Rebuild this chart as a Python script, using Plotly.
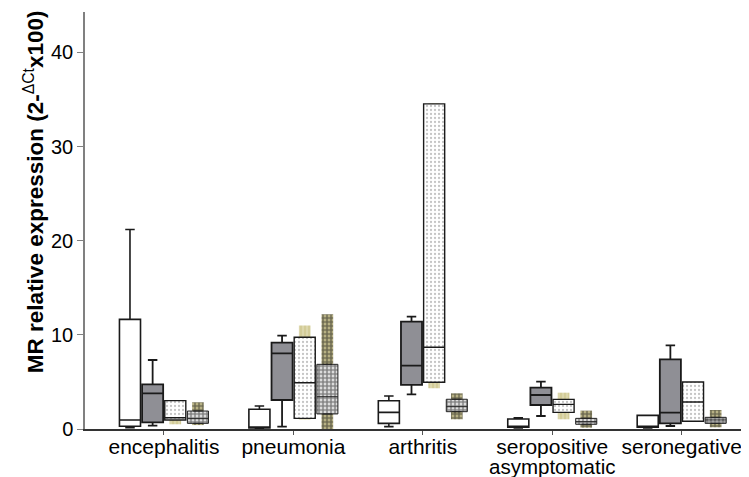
import plotly.graph_objects as go

categories = ["encephalitis", "pneumonia", "arthritis", "seropositive asymptomatic", "seronegative"]
tick_text = ["encephalitis", "pneumonia", "arthritis", "seropositive", "seronegative"]

# group A (open boxes)
a_min = [0.15, 0.0, 0.25, 0.1, 0.1]
a_q1 = [0.3, 0.1, 0.6, 0.18, 0.18]
a_med = [0.95, 0.15, 1.77, 0.3, 0.2]
a_q3 = [11.65, 2.1, 3.0, 1.06, 1.45]
a_max = [21.2, 2.45, 3.5, 1.2, 1.45]

# group B (grey boxes)
b_min = [0.35, 0.25, 3.68, 1.38, 0.32]
b_q1 = [0.71, 3.08, 4.68, 2.55, 0.6]
b_med = [3.79, 8.04, 6.73, 3.61, 1.74]
b_q3 = [4.75, 9.17, 11.4, 4.39, 7.4]
b_max = [7.33, 9.92, 11.93, 5.03, 8.89]

# group C (dotted boxes)
c_min = [0.5, 1.0, 4.32, 1.03, 0.82]
c_q1 = [0.96, 1.13, 4.96, 1.77, 0.82]
c_med = [1.2, 4.92, 8.68, 2.62, 2.87]
c_q3 = [3.01, 9.74, 34.54, 3.15, 4.99]
c_max = [3.01, 11.0, 34.6, 3.86, 4.99]

# group D (checkered boxes)
d_min = [0.42, 0.0, 1.03, 0.14, 0.18]
d_q1 = [0.6, 1.6, 1.84, 0.5, 0.6]
d_med = [1.1, 3.43, 2.37, 0.78, 0.96]
d_q3 = [1.91, 6.87, 3.16, 1.13, 1.24]
d_max = [2.84, 12.2, 3.79, 1.95, 2.02]

y_ticks = [0, 10, 20, 30, 40]

KHAKI = "#d3cc98"
GREY = "#8f8f95"
GAP = 0.3
GROUPGAP = 0.07
BAND_W = 0.09
N_GROUPS = 4
FONT = "Liberation Sans, Arial, sans-serif"

def slot_offset(k):
    return (k + 0.5) * (1 - GAP) / N_GROUPS - (1 - GAP) / 2 - BAND_W / 2

def span(lo, hi):
    return [h - l for l, h in zip(lo, hi)]

fig = go.Figure()

# box fills (white / grey)
fig.add_trace(go.Bar(x=categories, base=a_q1, y=span(a_q1, a_q3), offsetgroup="a",
                     marker=dict(color="white", line=dict(width=0)), showlegend=False, hoverinfo="skip"))
fig.add_trace(go.Bar(x=categories, base=b_q1, y=span(b_q1, b_q3), offsetgroup="b",
                     marker=dict(color=GREY, line=dict(width=0)), showlegend=False, hoverinfo="skip"))

# patterned whisker bands for dotted and checkered groups
fig.add_trace(go.Bar(x=categories, base=c_min, y=span(c_min, c_max), offsetgroup="c",
                     width=BAND_W, offset=slot_offset(2),
                     marker=dict(color=KHAKI, line=dict(width=0),
                                 pattern=dict(shape="|", fgcolor="#f4f1dc", bgcolor=KHAKI, size=4, solidity=0.3)),
                     showlegend=False, hoverinfo="skip"))
fig.add_trace(go.Bar(x=categories, base=d_min, y=span(d_min, d_max), offsetgroup="d",
                     width=BAND_W, offset=slot_offset(3),
                     marker=dict(color=KHAKI, line=dict(width=0),
                                 pattern=dict(shape=".", fgcolor="#111111", bgcolor=KHAKI, size=4, solidity=0.75)),
                     showlegend=False, hoverinfo="skip"))

# patterned box fills
fig.add_trace(go.Bar(x=categories, base=c_q1, y=span(c_q1, c_q3), offsetgroup="c",
                     marker=dict(color="white", line=dict(width=0),
                                 pattern=dict(shape=".", fgcolor="#8a8a8a", bgcolor="white", size=4, solidity=0.25)),
                     showlegend=False, hoverinfo="skip"))
fig.add_trace(go.Bar(x=categories, base=d_q1, y=span(d_q1, d_q3), offsetgroup="d",
                     marker=dict(color="white", line=dict(width=0),
                                 pattern=dict(shape=".", fgcolor="#111111", bgcolor="white", size=4, solidity=0.75)),
                     showlegend=False, hoverinfo="skip"))

# box outlines, medians and whiskers
common = dict(x=categories, fillcolor="rgba(0,0,0,0)", whiskerwidth=0.45, boxpoints=False,
              showlegend=False, hoverinfo="skip")
fig.add_trace(go.Box(q1=a_q1, median=a_med, q3=a_q3, lowerfence=a_min, upperfence=a_max,
                     offsetgroup="a", line=dict(color="#1a1a1a", width=1.6), **common))
fig.add_trace(go.Box(q1=b_q1, median=b_med, q3=b_q3, lowerfence=b_min, upperfence=b_max,
                     offsetgroup="b", line=dict(color="#1a1a1a", width=1.8), **common))
fig.add_trace(go.Box(q1=c_q1, median=c_med, q3=c_q3, lowerfence=c_q1, upperfence=c_q3,
                     offsetgroup="c", line=dict(color="#1a1a1a", width=1.4), **common))
fig.add_trace(go.Box(q1=d_q1, median=d_med, q3=d_q3, lowerfence=d_q1, upperfence=d_q3,
                     offsetgroup="d", line=dict(color="#222222", width=1.0), **common))

annotations = [dict(text="<b>MR relative expression (2-</b><sup>ΔCt</sup><b>x100)</b>",
                    textangle=-90, xref="paper", yref="paper", x=-0.0768, y=0.568,
                    xanchor="center", yanchor="middle", showarrow=False,
                    font=dict(size=22.5, family=FONT, color="black")),
               dict(text="asymptomatic", xref="x", x=3, yref="paper", y=-0.089,
                    xanchor="center", yanchor="middle", showarrow=False,
                    font=dict(size=20.5, family=FONT, color="black"))]

fig.update_layout(
    width=741, height=469,
    margin=dict(l=77, r=0, t=4, b=48),
    paper_bgcolor="white", plot_bgcolor="white",
    barmode="group", bargap=GAP, bargroupgap=GROUPGAP,
    boxmode="group", boxgap=GAP, boxgroupgap=GROUPGAP,
    font=dict(family=FONT, color="black"),
    xaxis=dict(type="category", range=[-0.61, 4.52], showline=True, linecolor="#333333", linewidth=1.5,
               tickmode="array", tickvals=categories, ticktext=tick_text,
               ticks="outside", ticklen=4, tickcolor="#555555", tickfont=dict(size=21),
               ticklabelstandoff=-6,
               showgrid=False, zeroline=False, automargin=False),
    yaxis=dict(range=[0, 44.3], tickvals=y_ticks, showline=True, linecolor="#808080", linewidth=1.5,
               ticks="outside", ticklen=6, tickcolor="#808080", tickfont=dict(size=20),
               showgrid=False, zeroline=False, automargin=False),
    annotations=annotations,
)

fig.write_html("out.html")
